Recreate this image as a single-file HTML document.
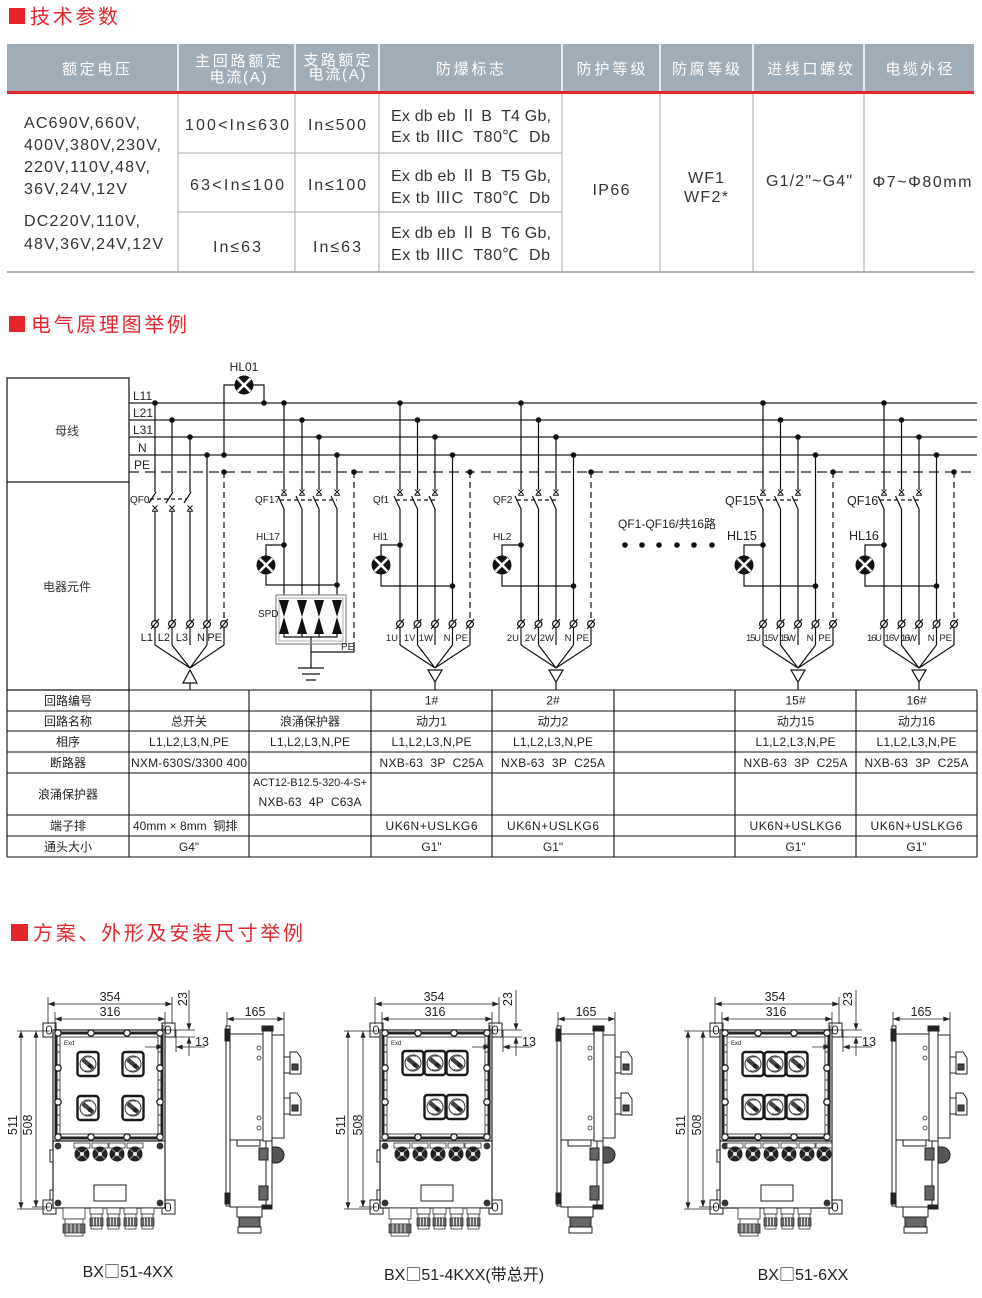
<!DOCTYPE html>
<html><head><meta charset="utf-8"><style>
html,body{margin:0;padding:0;background:#fff;}
svg{display:block;font-family:"Liberation Sans","Noto Sans CJK SC",sans-serif;}
.pre{white-space:pre;}
.cjk{font-family:"Noto Sans CJK SC",sans-serif;}
</style></head><body>
<svg width="982" height="1298" viewBox="0 0 982 1298" xmlns="http://www.w3.org/2000/svg" xmlns:xlink="http://www.w3.org/1999/xlink">
<defs>
<marker id="ar" viewBox="0 0 8 6" refX="8" refY="3" markerWidth="7" markerHeight="5" markerUnits="userSpaceOnUse" orient="auto-start-reverse"><path d="M0,0L8,3L0,6z" fill="#222"/></marker>
<g id="dot"><circle r="2.8" fill="#111"/></g>
<g id="lamp"><circle r="9.5" fill="#111"/><path d="M-6.5,-6.5L6.5,6.5M-6.5,6.5L6.5,-6.5" stroke="#fff" stroke-width="2.6"/></g>
<g id="term"><circle r="3.4" fill="#fff" stroke="#111" stroke-width="1.2"/><path d="M-4,5L4,-5" stroke="#111" stroke-width="1.1"/></g>
<g id="xm"><path d="M-2.5,-2.5L2.5,2.5M-2.5,2.5L2.5,-2.5M-3,3.2H3" stroke="#111" stroke-width="1" fill="none"/></g>

<g id="branch">
 <g stroke="#111" stroke-width="1.2" fill="none">
  <path d="M0 403V490M17.5 420V490M35 437V490M0 509V645M17.5 509V645M35 509V645M52.5 455V645"/>
  <path d="M70 472V620" stroke-dasharray="6,4"/>
  <path d="M70 628V645"/>
  <path d="M-6 496L0 509M11.5 496L17.5 509M29 496L35 509"/>
  <path d="M-4 500H35" stroke-dasharray="4,3"/>
  <path d="M0 545H-19V556M-19 574V586H52.5"/>
  <path d="M0 645L35 668M17.5 645L35 668M52.5 645L35 668M70 645L35 668"/>
  <path d="M28 670H42L35 682ZM35 682V690"/>
 </g>
 <use href="#dot" x="0" y="403"/><use href="#dot" x="17.5" y="420"/><use href="#dot" x="35" y="437"/><use href="#dot" x="52.5" y="455"/><use href="#dot" x="70" y="472"/><use href="#dot" x="0" y="545"/><use href="#dot" x="52.5" y="586"/>
 <use href="#xm" x="0" y="492"/><use href="#xm" x="17.5" y="492"/><use href="#xm" x="35" y="492"/>
 <use href="#lamp" x="-19" y="565"/>
 <use href="#term" x="0" y="624"/><use href="#term" x="17.5" y="624"/><use href="#term" x="35" y="624"/><use href="#term" x="52.5" y="624"/><use href="#term" x="70" y="624"/>
</g>

<g id="sw">
 <rect x="-10.5" y="-12" width="21" height="24" rx="3" fill="#fff" stroke="#1a1a1a" stroke-width="2.4"/>
 <circle r="8" fill="#fff" stroke="#333" stroke-width="1"/>
 <path d="M-6,-3A7 7 0 0 1 3,-6.5M6,3A7 7 0 0 1 -3,6.5" stroke="#555" stroke-width="0.8" fill="none"/>
 <rect x="-7" y="-2.2" width="14" height="4.4" rx="1" transform="rotate(40)" fill="#444"/>
 <circle cx="2" cy="2" r="2.2" fill="#222"/>
</g>
<g id="ind">
 <rect x="-8" y="-11" width="16" height="5" fill="#fff" stroke="#333" stroke-width="0.8"/>
 <circle r="7.5" fill="#222"/>
 <path d="M-5,-5L5,5M-5,5L5,-5" stroke="#999" stroke-width="1"/>
 <circle r="2" fill="#eee"/>
</g>
<g id="bolt"><circle r="3.2" fill="#fff" stroke="#222" stroke-width="1.3"/></g>
<g id="boltd"><circle r="3.4" fill="#333"/></g>
<g id="gl" stroke="#333" stroke-width="0.8">
 <rect x="0" y="0" width="13" height="6" fill="#fff"/>
 <rect x="1" y="6" width="11" height="4" fill="#fff"/>
 <rect x="0" y="10" width="13" height="8" fill="#666"/>
 <path d="M3.5 10V18M6.5 10V18M9.5 10V18" stroke="#fff"/>
 <rect x="1" y="18" width="11" height="3" fill="#fff"/>
</g>
<g id="gb" stroke="#333" stroke-width="0.8">
 <rect x="0" y="0" width="22" height="11" fill="#fff"/>
 <rect x="2" y="11" width="18" height="5" fill="#fff"/>
 <rect x="0" y="16" width="22" height="9" fill="#666"/>
 <path d="M4 16V25M8 16V25M12 16V25M16 16V25" stroke="#fff"/>
 <rect x="2" y="25" width="18" height="3" fill="#fff"/>
</g>

<g id="frame">
 <g fill="#fff" stroke="#222" stroke-width="1">
  <rect x="-10" y="1023" width="13" height="14"/><rect x="-6.5" y="1026" width="5" height="8" rx="2.5"/>
  <rect x="109" y="1023" width="13" height="14"/><rect x="112.5" y="1026" width="5" height="8" rx="2.5"/>
  <rect x="-10" y="1200" width="13" height="14"/><rect x="-6.5" y="1203" width="5" height="8" rx="2.5"/>
  <rect x="109" y="1200" width="13" height="14"/><rect x="112.5" y="1203" width="5" height="8" rx="2.5"/>
  <rect x="0" y="1030" width="112" height="111" stroke-width="1.2"/>
  <rect x="3" y="1033" width="106" height="105" fill="none" stroke-width="3"/>
  <rect x="7" y="1037" width="98" height="97" fill="none" stroke-width="0.8"/>
  <rect x="0" y="1141" width="112" height="67" stroke-width="1.2"/>
  <rect x="-3" y="1150" width="3" height="12"/><rect x="-3" y="1190" width="3" height="10"/>
  <rect x="41" y="1185" width="32" height="16"/>
 </g>
 <path d="M3 1045h4M3 1052h4M3 1080h4M3 1090h4M3 1115h4M3 1125h4M105 1045h4M105 1052h4M105 1080h4M105 1090h4M105 1115h4M105 1125h4" stroke="#333" stroke-width="1"/>
 <use href="#bolt" x="5" y="1033"/><use href="#bolt" x="38" y="1033"/><use href="#bolt" x="74" y="1033"/><use href="#bolt" x="107" y="1033"/>
 <use href="#bolt" x="5" y="1137"/><use href="#bolt" x="38" y="1137"/><use href="#bolt" x="74" y="1137"/><use href="#bolt" x="107" y="1137"/>
 <use href="#bolt" x="5" y="1068"/><use href="#bolt" x="5" y="1102"/><use href="#bolt" x="107" y="1068"/><use href="#bolt" x="107" y="1102"/>
 <use href="#boltd" x="5" y="1146"/><use href="#boltd" x="107" y="1146"/><use href="#boltd" x="5" y="1203"/><use href="#boltd" x="107" y="1203"/>
 <g stroke="#222" stroke-width="0.8" fill="none">
  <path d="M-5 997V1024M119 997V1024M2 1012V1031M112 1012V1031"/>
  <path d="M-5 1004H119" marker-start="url(#ar)" marker-end="url(#ar)"/>
  <path d="M2 1019H112" marker-start="url(#ar)" marker-end="url(#ar)"/>
  <path d="M-36 1031H-3M-36 1209H-8M-21 1031H-3M-21 1207H-3"/>
  <path d="M-32 1031V1209" marker-start="url(#ar)" marker-end="url(#ar)"/>
  <path d="M-17 1031V1207" marker-start="url(#ar)" marker-end="url(#ar)"/>
  <path d="M112 1030H142M118 1037H142"/>
  <path d="M136 990V1030" marker-end="url(#ar)"/>
  <path d="M136 1037V1056" marker-start="url(#ar)"/>
  <path d="M110 1025V1052M123 1030V1052"/>
  <path d="M92 1047H110" marker-end="url(#ar)"/>
  <path d="M123 1047H152" marker-start="url(#ar)"/>
 </g>
</g>

<g id="side">
 <g fill="#fff" stroke="#222" stroke-width="1">
  <path d="M1 1012V1030M58 1012V1036" fill="none" stroke-width="0.8"/>
  <path d="M1 1019H58" fill="none" stroke-width="0.8" marker-start="url(#ar)" marker-end="url(#ar)"/>
  <rect x="0" y="1026" width="4" height="180"/>
  <rect x="-1" y="1029" width="4" height="12" fill="#222"/>
  <rect x="-1" y="1193" width="4" height="11" fill="#222"/>
  <rect x="4" y="1034" width="33" height="106"/>
  <rect x="4" y="1140" width="36" height="67"/>
  <rect x="11" y="1140" width="23" height="6"/>
  <rect x="37" y="1028" width="9" height="113"/>
  <rect x="36" y="1026" width="11" height="5" fill="#222"/>
  <rect x="46" y="1035" width="12" height="103"/>
  <rect x="58" y="1057" width="6" height="16"/>
  <path d="M64 1052h7l4 6v16h-11z"/>
  <rect x="66" y="1064" width="6" height="6" fill="#444"/>
  <rect x="58" y="1098" width="6" height="16"/>
  <path d="M64 1093h7l4 6v16h-11z"/>
  <rect x="66" y="1105" width="6" height="6" fill="#444"/>
  <rect x="40" y="1141" width="6" height="67"/>
  <path d="M46 1147h4a8 8 0 0 1 0 16h-4z" fill="#555"/>
  <rect x="33" y="1148" width="9" height="12" fill="#666"/>
  <rect x="33" y="1186" width="9" height="14" fill="#666"/>
  <rect x="11" y="1207" width="25" height="10"/>
  <rect x="13" y="1217" width="21" height="10" fill="#666"/>
  <rect x="12" y="1227" width="23" height="6"/>
  <rect x="36" y="1205" width="10" height="4" fill="#222"/>
 </g>
 <g fill="none" stroke="#333" stroke-width="0.8">
  <circle cx="33" cy="1048" r="2"/><circle cx="33" cy="1058" r="2"/><circle cx="33" cy="1118" r="2"/><circle cx="33" cy="1128" r="2"/>
 </g>
</g>
</defs>

<!-- ============ Section 1 ============ -->
<rect x="9" y="8" width="16" height="16" fill="#e3262c"/>
<text x="30" y="23.5" font-size="20" fill="#e3262c" textLength="88">技术参数</text>

<rect x="7" y="44" width="967" height="47" fill="#9fadb8"/>
<rect x="7" y="91" width="967" height="3" fill="#e3262c"/>
<path d="M178 44V91M295 44V91M379 44V91M562 44V91M660 44V91M753 44V91M864 44V91" stroke="#fff" stroke-width="1.5"/>
<g fill="#fff" font-size="15" text-anchor="middle">
 <text x="96" y="74" textLength="68">额定电压</text>
 <text x="238" y="66" textLength="86">主回路额定</text>
 <text x="238" y="82" textLength="57">电流(A)</text>
 <text x="337" y="65" textLength="67">支路额定</text>
 <text x="337" y="79" textLength="57">电流(A)</text>
 <text x="470" y="74" textLength="68">防爆标志</text>
 <text x="611" y="74" textLength="69">防护等级</text>
 <text x="706" y="74" textLength="68">防腐等级</text>
 <text x="810" y="74" textLength="86">进线口螺纹</text>
 <text x="919" y="74" textLength="67">电缆外径</text>
</g>
<g stroke="#a9a9a9" stroke-width="1">
 <path d="M178 94V272M295 94V272M379 94V272M562 94V272M660 94V272M753 94V272M864 94V272"/>
 <path d="M178 153H562M178 212H562"/>
</g>
<path d="M7 272H974" stroke="#999" stroke-width="1.5"/>
<g fill="#333" font-size="16">
 <text x="24" y="128" textLength="116">AC690V,660V,</text>
 <text x="24" y="150" textLength="137">400V,380V,230V,</text>
 <text x="24" y="172" textLength="126">220V,110V,48V,</text>
 <text x="24" y="194" textLength="103">36V,24V,12V</text>
 <text x="24" y="226" textLength="116">DC220V,110V,</text>
 <text x="24" y="249" textLength="139">48V,36V,24V,12V</text>
 <g text-anchor="middle">
  <text x="237" y="130" textLength="104">100&lt;In≤630</text>
  <text x="237" y="190" textLength="94">63&lt;In≤100</text>
  <text x="237" y="252" textLength="48">In≤63</text>
  <text x="337" y="130" textLength="58">In≤500</text>
  <text x="337" y="190" textLength="58">In≤100</text>
  <text x="337" y="252" textLength="48">In≤63</text>
  <text x="611" y="195" textLength="37">IP66</text>
  <text x="706" y="183" textLength="36">WF1</text>
  <text x="706" y="202" textLength="44">WF2*</text>
  <text x="809" y="186" textLength="86">G1/2"~G4"</text>
  <text x="922" y="187" textLength="99">Φ7~Φ80mm</text>
 </g>
 <text x="391" y="121" class="pre" textLength="160">Ex db eb Ⅱ B  T4 Gb,</text>
 <text x="391" y="142" class="pre" textLength="159">Ex tb ⅢC  T80℃  Db</text>
 <text x="391" y="181" class="pre" textLength="160">Ex db eb Ⅱ B  T5 Gb,</text>
 <text x="391" y="203" class="pre" textLength="159">Ex tb ⅢC  T80℃  Db</text>
 <text x="391" y="238" class="pre" textLength="160">Ex db eb Ⅱ B  T6 Gb,</text>
 <text x="391" y="260" class="pre" textLength="159">Ex tb ⅢC  T80℃  Db</text>
</g>

<!-- ============ Section 2 ============ -->
<rect x="9" y="316" width="16" height="16" fill="#e3262c"/>
<text x="31" y="331.5" font-size="20" fill="#e3262c" textLength="156">电气原理图举例</text>

<rect x="7" y="378" width="122" height="312" fill="none" stroke="#111" stroke-width="1.2"/>
<path d="M7 482H129" stroke="#111" stroke-width="1.2"/>
<text x="67" y="435" font-size="12" fill="#333" text-anchor="middle">母线</text>
<text x="67" y="591" font-size="12" fill="#333" text-anchor="middle">电器元件</text>

<g stroke="#222" stroke-width="1.3" fill="none">
 <path d="M129 403H977M129 420H977M129 437H977M129 455H977"/>
 <path d="M129 472H977" stroke-dasharray="10,6"/>
</g>
<g font-size="12" fill="#222">
 <text x="133" y="400">L11</text>
 <text x="133" y="417">L21</text>
 <text x="133" y="434">L31</text>
 <text x="138" y="452">N</text>
 <text x="134" y="469">PE</text>
</g>

<!-- QF0 group -->
<g stroke="#111" stroke-width="1.2" fill="none">
 <path d="M155 403V492M172 420V492M190 437V492M155 511V645M172 511V645M190 511V645M207 455V645"/>
 <path d="M156 492L149 503M173 492L166 503M191 492L184 503"/>
 <path d="M150 499H186" stroke-dasharray="4,3"/>
 <path d="M224 472V620" stroke-dasharray="6,4"/>
 <path d="M224 628V645"/>
 <path d="M224 455V385H234.5M253.5 385H264V403"/>
 <path d="M155 645L190 668M172 645L190 668M207 645L190 668M224 645L190 668"/>
 <path d="M190 670L183 683H197ZM190 683V690"/>
</g>
<use href="#dot" x="155" y="403"/><use href="#dot" x="172" y="420"/><use href="#dot" x="190" y="437"/><use href="#dot" x="207" y="455"/><use href="#dot" x="224" y="455"/><use href="#dot" x="224" y="472"/><use href="#dot" x="264" y="403"/>
<use href="#xm" x="155" y="508"/><use href="#xm" x="172" y="508"/><use href="#xm" x="190" y="508"/>
<use href="#lamp" x="244" y="385"/>
<use href="#term" x="155" y="624"/><use href="#term" x="172" y="624"/><use href="#term" x="190" y="624"/><use href="#term" x="207" y="624"/><use href="#term" x="224" y="624"/>
<text x="244" y="371" font-size="12" fill="#222" text-anchor="middle">HL01</text>
<text x="130" y="503" font-size="10" fill="#222">QF0</text>
<g font-size="11" fill="#222" text-anchor="end">
 <text x="153" y="641">L1</text><text x="170" y="641">L2</text><text x="188" y="641">L3</text><text x="205" y="641">N</text><text x="222" y="641">PE</text>
</g>

<!-- QF17 / SPD group -->
<g stroke="#111" stroke-width="1.2" fill="none">
 <path d="M284 403V490M302 420V490M319 437V490M337 455V490M284 509V595M302 509V595M319 509V595M337 509V595"/>
 <path d="M278 496L284 509M296 496L302 509M313 496L319 509M331 496L337 509"/>
 <path d="M280 500H337" stroke-dasharray="4,3"/>
 <path d="M284 545H266V556M266 574V585H337"/>
 <path d="M354 472V646" stroke-dasharray="6,4"/>
 <path d="M354 645V652H311M311 637V668"/>
 <path d="M284 634V637H337V634M302 634V637M319 634V637"/>
 <path d="M298 668H324M302 674H320M306 680H316"/>
</g>
<rect x="276" y="595" width="70" height="49" fill="none" stroke="#888" stroke-width="1.2"/>
<rect x="279" y="598" width="64" height="43" fill="none" stroke="#999" stroke-width="0.8"/>
<g fill="#111">
 <path d="M279 600H289L284 617ZM279 634H289L284 617Z"/>
 <path d="M297 600H307L302 617ZM297 634H307L302 617Z"/>
 <path d="M314 600H324L319 617ZM314 634H324L319 617Z"/>
 <path d="M332 600H342L337 617ZM332 634H342L337 617Z"/>
</g>
<use href="#dot" x="284" y="403"/><use href="#dot" x="302" y="420"/><use href="#dot" x="319" y="437"/><use href="#dot" x="337" y="455"/><use href="#dot" x="354" y="472"/><use href="#dot" x="284" y="545"/><use href="#dot" x="337" y="585"/>
<use href="#xm" x="284" y="492"/><use href="#xm" x="302" y="492"/><use href="#xm" x="319" y="492"/><use href="#xm" x="337" y="492"/>
<use href="#lamp" x="266" y="565"/>
<g font-size="10" fill="#222">
 <text x="255" y="503">QF17</text>
 <text x="256" y="540">HL17</text>
 <text x="258" y="617">SPD</text>
 <text x="341" y="650">PE</text>
</g>

<!-- branches -->
<use href="#branch" x="400"/>
<use href="#branch" x="521"/>
<use href="#branch" x="763"/>
<use href="#branch" x="884"/>
<g font-size="10" fill="#222">
 <text x="373" y="503">Qf1</text><text x="373" y="540">Hl1</text>
 <text x="493" y="503">QF2</text><text x="493" y="540">HL2</text>
</g>
<g font-size="12.5" fill="#222">
 <text x="725" y="505">QF15</text><text x="727" y="540">HL15</text>
 <text x="847" y="505">QF16</text><text x="849" y="540">HL16</text>
 <text x="618" y="528" font-size="12">QF1-QF16/共16路</text>
</g>
<g fill="#111">
 <circle cx="625" cy="545" r="2.8"/><circle cx="642" cy="545" r="2.8"/><circle cx="659" cy="545" r="2.8"/><circle cx="677" cy="545" r="2.8"/><circle cx="694" cy="545" r="2.8"/><circle cx="712" cy="545" r="2.8"/>
</g>
<g font-size="9.5" fill="#222" text-anchor="end">
 <text x="398" y="641">1U</text><text x="415.5" y="641">1V</text><text x="433" y="641">1W</text><text x="450.5" y="641">N</text><text x="468" y="641">PE</text>
 <text x="519" y="641">2U</text><text x="536.5" y="641">2V</text><text x="554" y="641">2W</text><text x="571.5" y="641">N</text><text x="589" y="641">PE</text>
 <text x="761" y="641" textLength="15">15U</text><text x="778.5" y="641" textLength="15">15V</text><text x="796" y="641" textLength="16">15W</text><text x="813.5" y="641">N</text><text x="831" y="641">PE</text>
 <text x="882" y="641" textLength="15">16U</text><text x="899.5" y="641" textLength="15">16V</text><text x="917" y="641" textLength="16">16W</text><text x="934.5" y="641">N</text><text x="952" y="641">PE</text>
</g>

<!-- bottom table -->
<g stroke="#111" stroke-width="1.1" fill="none">
 <path d="M7 690H977M7 711H977M7 731H977M7 752H977M7 773H977M7 815H977M7 836H977M7 857H977"/>
 <path d="M7 690V857M129 690V857M249 690V857M371 690V857M492 690V857M614 690V857M735 690V857M856 690V857M977 690V857"/>
</g>
<g font-size="12" fill="#222" text-anchor="middle">
 <text x="68" y="705">回路编号</text>
 <text x="68" y="725.5">回路名称</text>
 <text x="68" y="746">相序</text>
 <text x="68" y="767">断路器</text>
 <text x="68" y="798.5">浪涌保护器</text>
 <text x="68" y="830">端子排</text>
 <text x="68" y="851">通头大小</text>

 <text x="431.5" y="704.5">1#</text><text x="553" y="704.5">2#</text><text x="795.5" y="704.5">15#</text><text x="916.5" y="704.5">16#</text>

 <text x="189" y="725.5">总开关</text><text x="310" y="725.5">浪涌保护器</text><text x="431.5" y="725.5">动力1</text><text x="553" y="725.5">动力2</text><text x="795.5" y="725.5">动力15</text><text x="916.5" y="725.5">动力16</text>

 <text x="189" y="746" textLength="80">L1,L2,L3,N,PE</text><text x="310" y="746" textLength="80">L1,L2,L3,N,PE</text><text x="431.5" y="746" textLength="80">L1,L2,L3,N,PE</text><text x="553" y="746" textLength="80">L1,L2,L3,N,PE</text><text x="795.5" y="746" textLength="80">L1,L2,L3,N,PE</text><text x="916.5" y="746" textLength="80">L1,L2,L3,N,PE</text>

 <text x="431.5" y="767" class="pre" textLength="104">NXB-63  3P  C25A</text><text x="553" y="767" class="pre" textLength="104">NXB-63  3P  C25A</text><text x="795.5" y="767" class="pre" textLength="104">NXB-63  3P  C25A</text><text x="916.5" y="767" class="pre" textLength="104">NXB-63  3P  C25A</text>

 <text x="310" y="786" textLength="114" font-size="11">ACT12-B12.5-320-4-S+</text>
 <text x="310" y="806" class="pre" textLength="103">NXB-63  4P  C63A</text>

 <text x="431.5" y="830" textLength="92">UK6N+USLKG6</text><text x="553" y="830" textLength="92">UK6N+USLKG6</text><text x="795.5" y="830" textLength="92">UK6N+USLKG6</text><text x="916.5" y="830" textLength="92">UK6N+USLKG6</text>

 <text x="189" y="851">G4"</text><text x="431.5" y="851">G1"</text><text x="553" y="851">G1"</text><text x="795.5" y="851">G1"</text><text x="916.5" y="851">G1"</text>
</g>
<g font-size="12" fill="#222">
 <text x="131" y="767" textLength="116">NXM-630S/3300 400</text>
 <text x="133" y="830" class="pre">40mm × 8mm  铜排</text>
</g>

<!-- ============ Section 3 ============ -->
<rect x="11" y="924" width="17" height="17" fill="#e3262c"/>
<text x="33" y="940" font-size="20" fill="#e3262c" textLength="270">方案、外形及安装尺寸举例</text>

<!-- Set 1 -->
<g transform="translate(53,0)">
 <use href="#frame"/>
 <text x="11" y="1045" font-size="6" fill="#222">Exd</text>
 <use href="#sw" x="35" y="1064"/><use href="#sw" x="80" y="1064"/>
 <use href="#sw" x="35" y="1108"/><use href="#sw" x="80" y="1108"/>
 <use href="#ind" x="29" y="1154"/><use href="#ind" x="47" y="1154"/><use href="#ind" x="64" y="1154"/><use href="#ind" x="82" y="1154"/>
 <use href="#gb" x="10" y="1208"/>
 <use href="#gl" x="37" y="1208"/><use href="#gl" x="54" y="1208"/><use href="#gl" x="71" y="1208"/><use href="#gl" x="88" y="1208"/>
 <g font-size="12.5" fill="#222" text-anchor="middle">
  <text x="57" y="1001">354</text>
  <text x="57" y="1016">316</text>
  <text x="149" y="1046">13</text>
  <text transform="translate(134,999) rotate(-90)">23</text>
  <text transform="translate(-36,1125) rotate(-90)">511</text>
  <text transform="translate(-21,1125) rotate(-90)">508</text>
 </g>
</g>
<g transform="translate(226,0)">
 <use href="#side"/>
 <text x="29" y="1016" font-size="12.5" fill="#222" text-anchor="middle">165</text>
</g>
<text x="128" y="1277" font-size="16" fill="#222" text-anchor="middle">BX<tspan class="cjk">□</tspan>51-4XX</text>

<!-- Set 2 -->
<g transform="translate(380,0)">
 <use href="#frame"/>
 <text x="11" y="1045" font-size="6" fill="#222">Exd</text>
 <use href="#sw" x="33" y="1063"/><use href="#sw" x="55" y="1063"/><use href="#sw" x="77" y="1063"/>
 <use href="#sw" x="55" y="1107"/><use href="#sw" x="77" y="1107"/>
 <use href="#ind" x="22" y="1154"/><use href="#ind" x="40" y="1154"/><use href="#ind" x="58" y="1154"/><use href="#ind" x="76" y="1154"/><use href="#ind" x="93" y="1154"/>
 <use href="#gb" x="9" y="1208"/>
 <use href="#gl" x="37" y="1208"/><use href="#gl" x="53" y="1208"/><use href="#gl" x="70" y="1208"/><use href="#gl" x="87" y="1208"/>
 <g font-size="12.5" fill="#222" text-anchor="middle">
  <text x="54" y="1001">354</text>
  <text x="55" y="1016">316</text>
  <text x="149" y="1046">13</text>
  <text transform="translate(132,999) rotate(-90)">23</text>
  <text transform="translate(-35,1125) rotate(-90)">511</text>
  <text transform="translate(-18,1125) rotate(-90)">508</text>
 </g>
</g>
<g transform="translate(557,0)">
 <use href="#side"/>
 <text x="29" y="1016" font-size="12.5" fill="#222" text-anchor="middle">165</text>
</g>
<text x="464" y="1280" font-size="16" fill="#222" text-anchor="middle">BX<tspan class="cjk">□</tspan>51-4KXX(带总开)</text>

<!-- Set 3 -->
<g transform="translate(720,0)">
 <use href="#frame"/>
 <text x="11" y="1045" font-size="6" fill="#222">Exd</text>
 <use href="#sw" x="33" y="1064"/><use href="#sw" x="55" y="1064"/><use href="#sw" x="77" y="1064"/>
 <use href="#sw" x="33" y="1107"/><use href="#sw" x="55" y="1107"/><use href="#sw" x="77" y="1107"/>
 <use href="#ind" x="15" y="1154"/><use href="#ind" x="33" y="1154"/><use href="#ind" x="51" y="1154"/><use href="#ind" x="69" y="1154"/><use href="#ind" x="87" y="1154"/><use href="#ind" x="104" y="1154"/>
 <use href="#gb" x="18" y="1208"/>
 <use href="#gl" x="44" y="1208"/><use href="#gl" x="61" y="1208"/><use href="#gl" x="78" y="1208"/>
 <g font-size="12.5" fill="#222" text-anchor="middle">
  <text x="55" y="1001">354</text>
  <text x="56" y="1016">316</text>
  <text x="149" y="1046">13</text>
  <text transform="translate(132,999) rotate(-90)">23</text>
  <text transform="translate(-35,1125) rotate(-90)">511</text>
  <text transform="translate(-19,1125) rotate(-90)">508</text>
 </g>
</g>
<g transform="translate(892,0)">
 <use href="#side"/>
 <text x="29" y="1016" font-size="12.5" fill="#222" text-anchor="middle">165</text>
</g>
<text x="803" y="1280" font-size="16" fill="#222" text-anchor="middle">BX<tspan class="cjk">□</tspan>51-6XX</text>

</svg>
</body></html>
